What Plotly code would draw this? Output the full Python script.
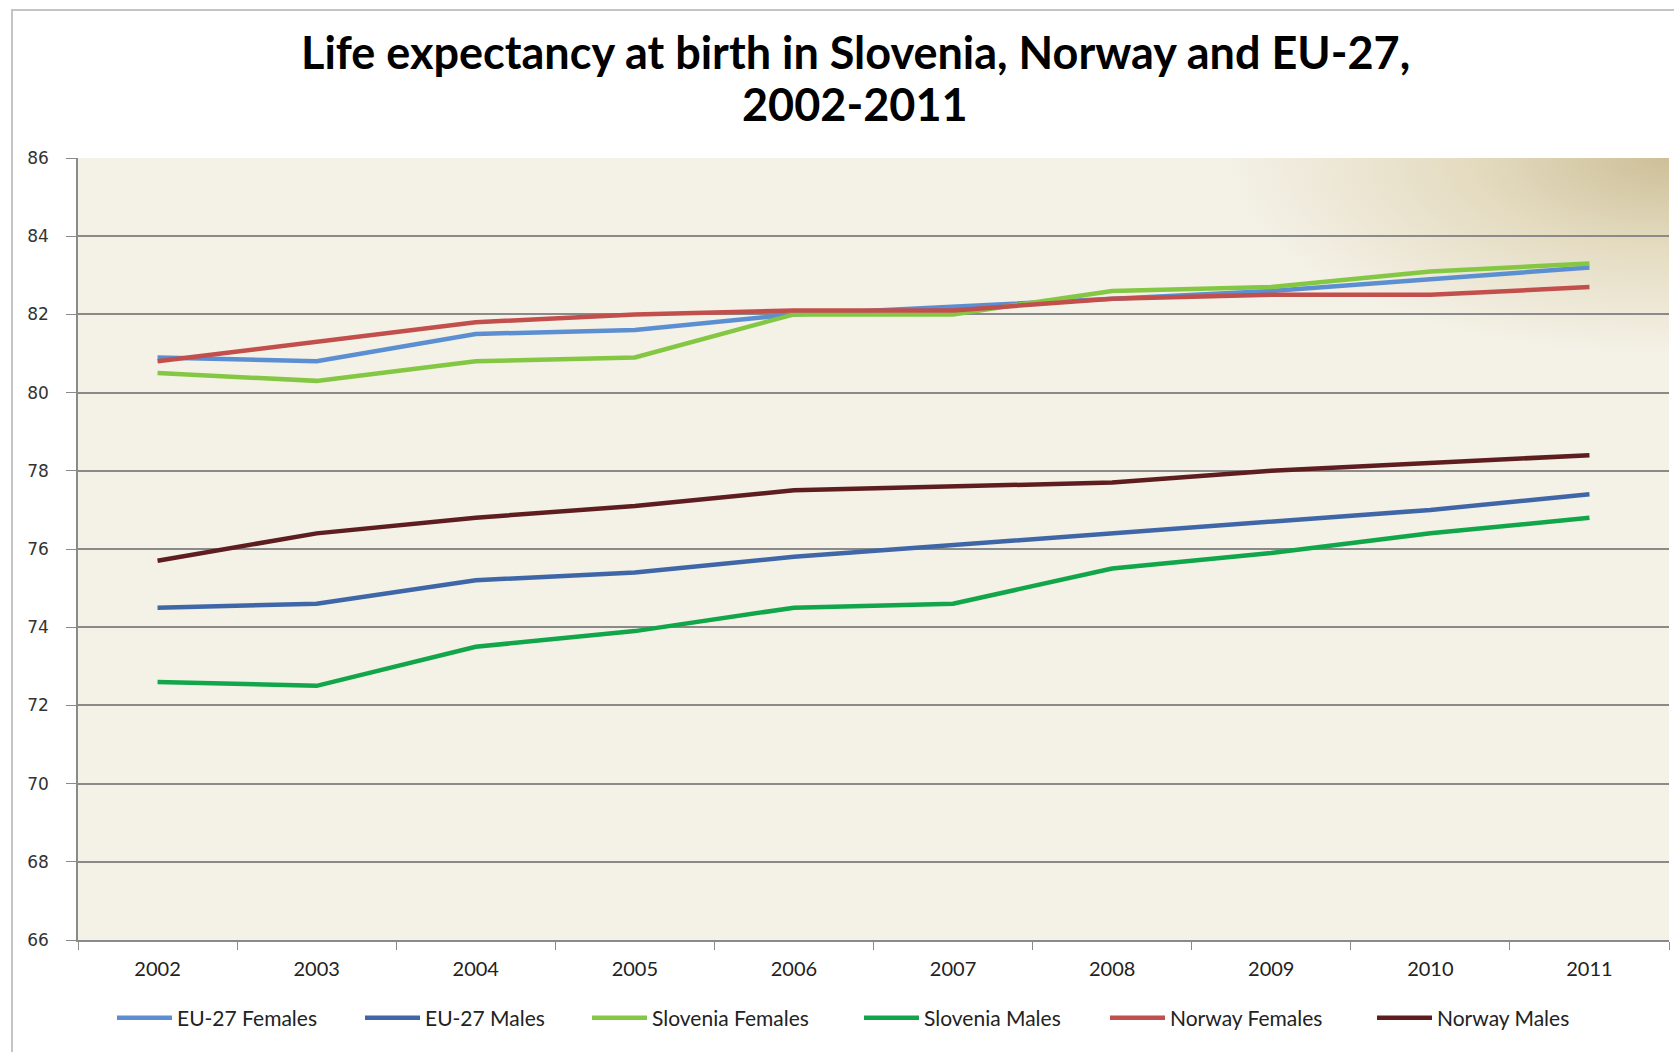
import base64
import plotly.graph_objects as go

# Data: life expectancy at birth (years)
years = ["2002", "2003", "2004", "2005", "2006", "2007", "2008", "2009", "2010", "2011"]

eu27_females = [80.9, 80.8, 81.5, 81.6, 82.0, 82.2, 82.4, 82.6, 82.9, 83.2]
eu27_males = [74.5, 74.6, 75.2, 75.4, 75.8, 76.1, 76.4, 76.7, 77.0, 77.4]
slovenia_females = [80.5, 80.3, 80.8, 80.9, 82.0, 82.0, 82.6, 82.7, 83.1, 83.3]
slovenia_males = [72.6, 72.5, 73.5, 73.9, 74.5, 74.6, 75.5, 75.9, 76.4, 76.8]
norway_females = [80.8, 81.3, 81.8, 82.0, 82.1, 82.1, 82.4, 82.5, 82.5, 82.7]
norway_males = [75.7, 76.4, 76.8, 77.1, 77.5, 77.6, 77.7, 78.0, 78.2, 78.4]

title_lines = ["Life expectancy at birth in Slovenia, Norway and EU-27,", "2002-2011"]

# name, values, colour, legend text width (px)
series = [
    ("EU-27 Females", eu27_females, "#5B8FD2", 178),
    ("EU-27 Males", eu27_males, "#3F67A8", 157),
    ("Slovenia Females", slovenia_females, "#84C743", 202),
    ("Slovenia Males", slovenia_males, "#12A64A", 176),
    ("Norway Females", norway_females, "#C24F4C", 197),
    ("Norway Males", norway_males, "#5E1E20", 150),
]

# Figure geometry (pixels)
W, H = 1674, 1052
L, R, T, B = 78, 1669, 158, 940
pw, ph = R - L, B - T

fig = go.Figure()
for name, vals, color, lw in series:
    fig.add_trace(go.Scatter(
        x=years, y=vals, name=name, mode="lines",
        line=dict(color=color, width=4.5),
        legendwidth=lw,
    ))

# Plot-area background: cream with a warm tan glow in the top-right corner
svg = f"""<svg xmlns='http://www.w3.org/2000/svg' width='{pw}' height='{ph}' viewBox='0 0 {pw} {ph}' preserveAspectRatio='none'>
<defs><radialGradient id='g' cx='1' cy='0' r='0.28' gradientUnits='objectBoundingBox' gradientTransform='translate(1 0) scale(1 0.9) translate(-1 0)'>
<stop offset='0' stop-color='#CDBF98'/>
<stop offset='0.45' stop-color='#E4DBC0'/>
<stop offset='1' stop-color='#F4F1E7'/>
</radialGradient></defs>
<rect width='{pw}' height='{ph}' fill='#F4F1E7'/>
<rect width='{pw}' height='{ph}' fill='url(#g)'/>
</svg>"""
src = "data:image/svg+xml;base64," + base64.b64encode(svg.encode()).decode()
fig.add_layout_image(dict(
    source=src, xref="paper", yref="paper", x=0, y=1, sizex=1, sizey=1,
    xanchor="left", yanchor="top", sizing="stretch", layer="below",
))

# Outer chart frame
fig.add_shape(
    type="rect", xref="paper", yref="paper",
    x0=(12 - L) / pw, x1=(W + 20 - L) / pw,
    y0=-(H + 20 - B) / ph, y1=(B - 10) / ph,
    line=dict(color="#C4C4C4", width=2), fillcolor="rgba(0,0,0,0)", layer="below",
)

# Two-line chart title
for text, yc in zip(title_lines, [52, 104]):
    fig.add_annotation(
        text=text, xref="paper", yref="paper",
        x=(855 - L) / pw, xanchor="center",
        y=(B - yc) / ph, yanchor="middle",
        showarrow=False,
        font=dict(family="Lato", size=45, color="#000000", weight="bold"),
    )

fig.update_layout(
    width=W, height=H,
    margin=dict(l=L, r=W - R, t=T, b=H - B, autoexpand=False),
    paper_bgcolor="white",
    plot_bgcolor="#F4F1E7",
    showlegend=True,
    legend=dict(
        orientation="h", x=(112 - L) / pw, xanchor="left",
        y=-(1018 - B) / ph, yanchor="middle",
        font=dict(family="Lato", size=21, color="#222222"),
        itemwidth=55,
        bgcolor="rgba(0,0,0,0)",
    ),
    xaxis=dict(
        type="category", categoryorder="array", categoryarray=years,
        range=[-0.5, 9.5],
        showgrid=False, showline=True, linecolor="#8A8A8A", linewidth=1.5,
        ticks="outside", tickson="boundaries", ticklen=8, tickcolor="#8A8A8A",
        tickfont=dict(family="Lato", size=20, color="#222222"),
        ticklabelstandoff=10,
    ),
    yaxis=dict(
        range=[66, 86], dtick=2, tick0=66,
        showgrid=True, gridcolor="#8A8A8A", gridwidth=1.5,
        showline=True, linecolor="#8A8A8A", linewidth=1.5,
        ticks="outside", ticklen=10, tickcolor="#8A8A8A",
        tickfont=dict(family="DejaVu Sans", size=17, color="#333333"),
        ticklabelstandoff=14, zeroline=False,
    ),
)

fig.write_html("out.html")
